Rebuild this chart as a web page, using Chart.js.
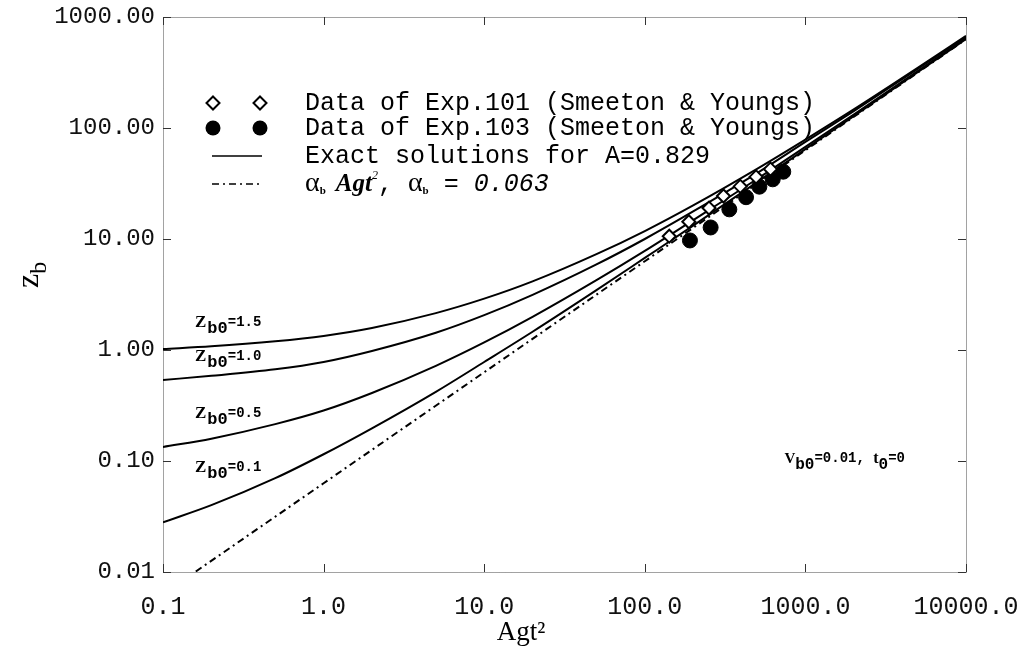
<!DOCTYPE html>
<html><head><meta charset="utf-8">
<script src="https://cdn.jsdelivr.net/npm/chart.js@4.4.1/dist/chart.umd.min.js"></script>
<style>html,body{margin:0;padding:0;background:#fff}#wrap{width:1023px;height:650px;position:relative}</style>
</head><body><div id="wrap"><canvas id="c"></canvas></div>
<script>
// ---- data ----
const agt = [0.1,0.2,0.5,1,2,5,10,20,50,100,200,500,1000,2000,5000,10000];
const zb0_15 = [1.02,1.08,1.2,1.34,1.58,2.15,2.9,4.15,7.3,11.8,20.1,42.9,78.7,147,348,677];
const zb0_10 = [0.537,0.585,0.67,0.78,0.98,1.43,2.06,3.14,5.9,10.0,17.7,39.2,74.9,142,340,664];
const zb0_05 = [0.134,0.159,0.215,0.285,0.41,0.72,1.17,1.99,4.26,7.82,14.8,34.7,67.7,132,325,645];
const zb0_01 = [0.028,0.04,0.07,0.115,0.197,0.42,0.78,1.46,3.46,6.75,13.2,32.5,64.5,128,318,634];
const alphaX = [0.16,1,10,100,1000,10000];
const alphaZ = [0.0101,0.063,0.63,6.3,63,630];
const exp101X = [142,188,251,309,393,493,606];
const exp101Z = [10.6,14.3,19.0,24.4,29.8,36.3,42.6];
const exp103X = [191,257,336,427,517,626,728];
const exp103Z = [9.7,12.7,18.5,23.8,29.6,34.5,40.4];
const xTicks = [0.1,1,10,100,1000,10000];
const yTicks = [0.01,0.1,1,10,100,1000];
const curveLabels = ['1.5','1.0','0.5','0.1'];
const legendLabels = ['Data of Exp.101 (Smeeton & Youngs)','Data of Exp.103 (Smeeton & Youngs)','Exact solutions for A=0.829'];

const pts = (xs, ys) => xs.map((x,i)=>({x:x, y:ys[i]}));
const MONO = '"Liberation Mono", "DejaVu Sans Mono", monospace';
const SERIF = '"Liberation Serif", "DejaVu Serif", serif';

function curve(label, ys){
  return {label, data: pts(agt, ys), showLine:true, borderColor:'#000', borderWidth:2,
    pointRadius:0, cubicInterpolationMode:'monotone', fill:false, order:2};
}

const datasets = [
  {label:legendLabels[0], data:pts(exp101X,exp101Z), pointStyle:'rectRot', pointRadius:6.5,
   pointBackgroundColor:'#fff', pointBorderColor:'#000', pointBorderWidth:2, showLine:false, order:0},
  {label:legendLabels[1], data:pts(exp103X,exp103Z), pointStyle:'circle', pointRadius:7.5,
   pointBackgroundColor:'#000', pointBorderColor:'#000', pointBorderWidth:1, showLine:false, order:0},
  curve(legendLabels[2], zb0_15),
  curve(legendLabels[2], zb0_10),
  curve(legendLabels[2], zb0_05),
  curve(legendLabels[2], zb0_01),
  {label:'alpha', data:pts(alphaX,alphaZ), showLine:true, borderColor:'#000', borderWidth:2,
   borderDash:[7,4,2,4], pointRadius:0, fill:false, order:1}
];

function drawParts(ctx, x, y, parts){
  let cx = x;
  for (const p of parts){
    ctx.font = p.f;
    ctx.fillText(p.t, cx, y + (p.dy||0));
    cx += ctx.measureText(p.t).width + (p.gap||0);
  }
  return cx;
}

const decor = {
  id:'decor',
  beforeDatasetsDraw(chart){
    const {ctx, chartArea:a, scales:{x, y}} = chart;
    ctx.save();
    ctx.strokeStyle = '#444'; ctx.lineWidth = 1; ctx.setLineDash([1,1]);
    ctx.strokeRect(a.left+0.5, a.top+0.5, a.right-a.left, a.bottom-a.top);
    ctx.setLineDash([]); ctx.strokeStyle = '#333';
    const L = 8;
    ctx.beginPath();
    for (const v of xTicks){
      const px = Math.round(x.getPixelForValue(v))+0.5;
      ctx.moveTo(px, a.bottom); ctx.lineTo(px, a.bottom-L);
      ctx.moveTo(px, a.top); ctx.lineTo(px, a.top+L);
    }
    for (const v of yTicks){
      const py = Math.round(y.getPixelForValue(v))+0.5;
      ctx.moveTo(a.left, py); ctx.lineTo(a.left+L, py);
      ctx.moveTo(a.right, py); ctx.lineTo(a.right-L, py);
    }
    ctx.stroke();
    ctx.restore();
  },
  afterDraw(chart){
    const {ctx, chartArea:a, scales:{x, y}} = chart;
    ctx.save();
    ctx.fillStyle = '#000'; ctx.strokeStyle = '#000';
    ctx.textBaseline = 'alphabetic'; ctx.textAlign = 'left';

    // legend
    const lx1 = a.left + 50, lx2 = a.left + 97, tx = a.left + 142;
    const rows = [103, 128, 156, 184];
    ctx.lineWidth = 2;
    for (const mx of [lx1, lx2]){
      const cy = rows[0], r = 6.5;
      ctx.beginPath(); ctx.moveTo(mx, cy-r); ctx.lineTo(mx+r, cy); ctx.lineTo(mx, cy+r); ctx.lineTo(mx-r, cy); ctx.closePath();
      ctx.fillStyle='#fff'; ctx.fill(); ctx.stroke();
      ctx.fillStyle='#000';
      ctx.beginPath(); ctx.arc(mx, rows[1], 7.5, 0, Math.PI*2); ctx.fill();
    }
    ctx.beginPath(); ctx.moveTo(lx1-1, rows[2]); ctx.lineTo(lx2+2, rows[2]); ctx.lineWidth=1.5; ctx.stroke();
    ctx.setLineDash([7,4,2,4]); ctx.beginPath(); ctx.moveTo(lx1-1, rows[3]); ctx.lineTo(lx2+2, rows[3]); ctx.stroke(); ctx.setLineDash([]);
    ctx.font = '25px ' + MONO; ctx.textBaseline = 'middle';
    ctx.fillText(legendLabels[0], tx, rows[0]);
    ctx.fillText(legendLabels[1], tx, rows[1]);
    ctx.fillText(legendLabels[2], tx, rows[2]);
    ctx.textBaseline = 'alphabetic';
    const b4 = rows[3] + 7;
    drawParts(ctx, tx, b4, [
      {t:'\u03b1', f:'28px ' + SERIF},
      {t:'b', f:'bold 11px ' + SERIF, dy:3, gap:10},
      {t:'Agt', f:'italic bold 25px ' + SERIF},
      {t:'2', f:'italic 12px ' + SERIF, dy:-12},
      {t:', ', f:'25px ' + MONO},
      {t:'\u03b1', f:'28px ' + SERIF},
      {t:'b', f:'bold 11px ' + SERIF, dy:3},
      {t:' = ', f:'25px ' + MONO},
      {t:'0.063', f:'italic 25px ' + MONO}
    ]);

    // curve labels
    const lbY = [1.62, 0.8, 0.245, 0.08];
    curveLabels.forEach((s, i) => {
      const px = a.left + 32;
      const py = y.getPixelForValue(lbY[i]);
      drawParts(ctx, px, py, [
        {t:'Z', f:'bold 17px ' + SERIF, gap:1},
        {t:'b0', f:'bold 17px ' + MONO, dy:6},
        {t:'=' + s, f:'bold 14px ' + MONO, dy:-1}
      ]);
    });

    // V_b0 note
    drawParts(ctx, x.getPixelForValue(740), y.getPixelForValue(0.096), [
      {t:'V', f:'bold 15px ' + SERIF},
      {t:'b0', f:'bold 16px ' + MONO, dy:6},
      {t:'=0.01, ', f:'bold 14px ' + MONO, dy:-1},
      {t:'t', f:'bold 16px ' + SERIF},
      {t:'0', f:'bold 16px ' + MONO, dy:6},
      {t:'=0', f:'bold 14px ' + MONO, dy:-1}
    ]);

    // x axis title
    ctx.textAlign = 'center'; ctx.textBaseline = 'middle';
    ctx.font = '27px ' + SERIF;
    ctx.fillText('Agt\u00b2', 521, 633);

    // y axis title z_b (rotated)
    ctx.textAlign = 'left'; ctx.textBaseline = 'alphabetic';
    ctx.translate(38, 288);
    ctx.rotate(-Math.PI/2);
    drawParts(ctx, 0, 0, [
      {t:'z', f:'32px ' + SERIF},
      {t:'b', f:'24px ' + SERIF, dy:8}
    ]);
    ctx.restore();
  }
};

new Chart(document.getElementById('c'), {
  type:'scatter',
  data:{datasets},
  options:{
    responsive:true, maintainAspectRatio:false, animation:false,
    layout:{padding:{top:17, right:57, left:0, bottom:0}},
    plugins:{legend:{display:false}, tooltip:{enabled:false}},
    scales:{
      x:{type:'logarithmic', min:0.1, max:10000,
        afterBuildTicks:s=>{ s.ticks = xTicks.map(v=>({value:v})); },
        afterFit:s=>{ s.height = 78; s.paddingLeft = 0; s.paddingRight = 0; },
        grid:{display:false}, border:{display:false},
        ticks:{autoSkip:false, maxRotation:0, padding:12, color:'#111',
          font:{family:MONO, size:25}, callback:v=>Number(v).toFixed(1)},
        title:{display:false}
      },
      y:{type:'logarithmic', min:0.01, max:1000,
        afterBuildTicks:s=>{ s.ticks = yTicks.map(v=>({value:v})); },
        afterFit:s=>{ s.width = 163; s.paddingTop = 0; s.paddingBottom = 0; },
        grid:{display:false}, border:{display:false},
        ticks:{autoSkip:false, padding:0, color:'#111',
          font:{family:MONO, size:24}, callback:v=>Number(v).toFixed(2)}
      }
    }
  },
  plugins:[decor]
});
</script></body></html>
